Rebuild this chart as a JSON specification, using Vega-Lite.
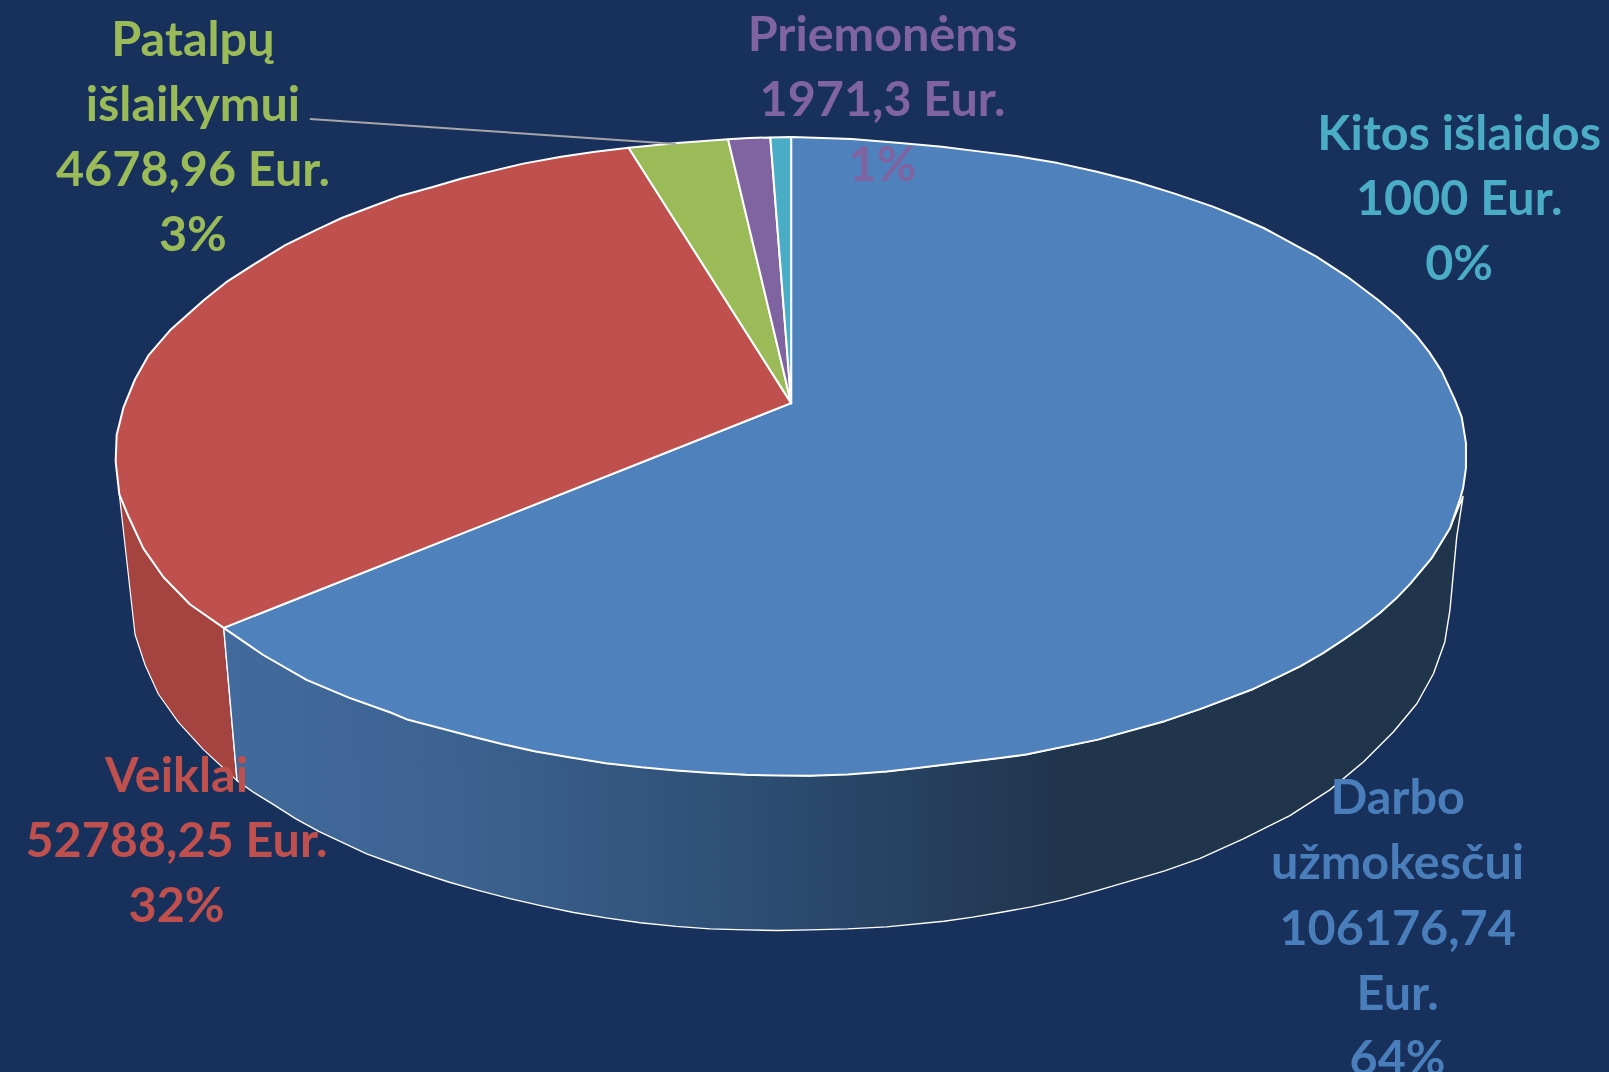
{"$schema":"https://vega.github.io/schema/vega-lite/v6.json","width":1609,"height":1072,"padding":0,"autosize":{"type":"none"},"background":"#18305c","config":{"view":{"stroke":null}},
"datasets":{
"blueTop":[{"i":0,"x":771,"y":393},{"i":1,"x":771,"y":133.6},{"i":2,"x":779.6,"y":133.8},{"i":3,"x":830,"y":135.5},{"i":4,"x":880,"y":139.6},{"i":5,"x":918,"y":143},{"i":6,"x":955.6,"y":147.8},{"i":7,"x":993,"y":152.5},{"i":8,"x":1031,"y":159},{"i":9,"x":1069,"y":167.5},{"i":10,"x":1106.5,"y":177},{"i":11,"x":1144,"y":188.5},{"i":12,"x":1182,"y":201.4},{"i":13,"x":1207,"y":211.5},{"i":14,"x":1232,"y":222.5},{"i":15,"x":1282.5,"y":250},{"i":16,"x":1312.7,"y":269.6},{"i":17,"x":1343,"y":292.4},{"i":18,"x":1362,"y":308.5},{"i":19,"x":1380,"y":327},{"i":20,"x":1393,"y":343.5},{"i":21,"x":1405,"y":362},{"i":22,"x":1418,"y":390},{"i":23,"x":1424.5,"y":406.6},{"i":24,"x":1428.6,"y":432},{"i":25,"x":1428.6,"y":456},{"i":26,"x":1425.8,"y":476},{"i":27,"x":1423,"y":486},{"i":28,"x":1413,"y":515},{"i":29,"x":1395,"y":544.4},{"i":30,"x":1374,"y":569.4},{"i":31,"x":1360.5,"y":583.5},{"i":32,"x":1345,"y":597.4},{"i":33,"x":1327.5,"y":611},{"i":34,"x":1309,"y":623.8},{"i":35,"x":1289,"y":637},{"i":36,"x":1267,"y":649.6},{"i":37,"x":1244.5,"y":660.5},{"i":38,"x":1221.5,"y":671.6},{"i":39,"x":1169.5,"y":691.3},{"i":40,"x":1135,"y":703},{"i":41,"x":1070,"y":721},{"i":42,"x":1000,"y":735.5},{"i":43,"x":974.6,"y":739},{"i":44,"x":920,"y":745.5},{"i":45,"x":892,"y":749},{"i":46,"x":864,"y":752},{"i":47,"x":826,"y":755},{"i":48,"x":789.3,"y":756.3},{"i":49,"x":758,"y":756},{"i":50,"x":727,"y":755.3},{"i":51,"x":693,"y":753.5},{"i":52,"x":658.8,"y":751},{"i":53,"x":625,"y":748},{"i":54,"x":590.5,"y":744},{"i":55,"x":556,"y":738.5},{"i":56,"x":522,"y":732.5},{"i":57,"x":490,"y":725.5},{"i":58,"x":460,"y":718},{"i":59,"x":397.7,"y":701.7},{"i":60,"x":380,"y":694.3},{"i":61,"x":340,"y":680},{"i":62,"x":298.8,"y":662.8},{"i":63,"x":256.6,"y":638.5},{"i":64,"x":218,"y":612}],
"redTop":[{"i":0,"x":771,"y":393},{"i":1,"x":218,"y":612},{"i":2,"x":185,"y":589},{"i":3,"x":159.2,"y":562.5},{"i":4,"x":139.7,"y":534.5},{"i":5,"x":125,"y":503},{"i":6,"x":116.3,"y":482},{"i":7,"x":112.7,"y":450},{"i":8,"x":113.7,"y":424},{"i":9,"x":120.2,"y":397.7},{"i":10,"x":131.6,"y":369.7},{"i":11,"x":144.5,"y":346.7},{"i":12,"x":165.7,"y":322},{"i":13,"x":198.8,"y":292.4},{"i":14,"x":222,"y":274},{"i":15,"x":248.6,"y":257},{"i":16,"x":278,"y":239},{"i":17,"x":308.3,"y":224},{"i":18,"x":333,"y":212.5},{"i":19,"x":358,"y":203},{"i":20,"x":390,"y":191},{"i":21,"x":422.6,"y":182},{"i":22,"x":450,"y":174},{"i":23,"x":477.3,"y":167.3},{"i":24,"x":510,"y":159.5},{"i":25,"x":546.9,"y":152.7},{"i":26,"x":580,"y":148},{"i":27,"x":612.6,"y":144}],
"greenTop":[{"i":0,"x":771,"y":393},{"i":1,"x":612.6,"y":144},{"i":2,"x":660,"y":139.5},{"i":3,"x":709.5,"y":135.8}],
"purpleTop":[{"i":0,"x":771,"y":393},{"i":1,"x":709.5,"y":135.8},{"i":2,"x":730,"y":134.5},{"i":3,"x":750.7,"y":134}],
"cyanTop":[{"i":0,"x":771,"y":393},{"i":1,"x":750.7,"y":134},{"i":2,"x":771,"y":133.6}],
"redSide":[{"i":0,"x":116.3,"y":482},{"i":1,"x":125,"y":503},{"i":2,"x":139.7,"y":534.5},{"i":3,"x":159.2,"y":562.5},{"i":4,"x":185,"y":589},{"i":5,"x":218,"y":612},{"i":6,"x":231,"y":761},{"i":7,"x":198,"y":730.5},{"i":8,"x":173.8,"y":704},{"i":9,"x":154.3,"y":676.5},{"i":10,"x":141.3,"y":648},{"i":11,"x":131.6,"y":618.5}],
"blueSide":[{"i":0,"x":218,"y":612},{"i":1,"x":256.6,"y":638.5},{"i":2,"x":298.8,"y":662.8},{"i":3,"x":340,"y":680},{"i":4,"x":380,"y":694.3},{"i":5,"x":460,"y":718},{"i":6,"x":522,"y":732.5},{"i":7,"x":590.5,"y":744},{"i":8,"x":658.8,"y":751},{"i":9,"x":727,"y":755.3},{"i":10,"x":789.3,"y":756.3},{"i":11,"x":864,"y":752},{"i":12,"x":920,"y":745.5},{"i":13,"x":974.6,"y":739},{"i":14,"x":1000,"y":735.5},{"i":15,"x":1070,"y":721},{"i":16,"x":1135,"y":703},{"i":17,"x":1169.5,"y":691.3},{"i":18,"x":1221.5,"y":671.6},{"i":19,"x":1267,"y":649.6},{"i":20,"x":1309,"y":623.8},{"i":21,"x":1345,"y":597.4},{"i":22,"x":1374,"y":569.4},{"i":23,"x":1395,"y":544.4},{"i":24,"x":1413,"y":515},{"i":25,"x":1425.8,"y":484},{"i":26,"x":1419.6,"y":523.4},{"i":27,"x":1413,"y":594.6},{"i":28,"x":1408,"y":625.8},{"i":29,"x":1396.8,"y":657},{"i":30,"x":1380.7,"y":686},{"i":31,"x":1357.8,"y":713.6},{"i":32,"x":1328.6,"y":742.8},{"i":33,"x":1296,"y":770},{"i":34,"x":1257,"y":795},{"i":35,"x":1211.6,"y":817.8},{"i":36,"x":1169.5,"y":836.7},{"i":37,"x":1135,"y":849},{"i":38,"x":1070,"y":868},{"i":39,"x":1037,"y":877},{"i":40,"x":1005,"y":884},{"i":41,"x":974.6,"y":889.5},{"i":42,"x":948,"y":894},{"i":43,"x":920,"y":898},{"i":44,"x":864,"y":903.5},{"i":45,"x":826,"y":905.5},{"i":46,"x":789,"y":906.5},{"i":47,"x":758,"y":907},{"i":48,"x":727,"y":906.5},{"i":49,"x":692,"y":905.5},{"i":50,"x":658.8,"y":903},{"i":51,"x":624,"y":899.5},{"i":52,"x":590.5,"y":894.8},{"i":53,"x":559,"y":889.5},{"i":54,"x":528,"y":883},{"i":55,"x":497,"y":876},{"i":56,"x":466,"y":868},{"i":57,"x":438,"y":860},{"i":58,"x":410,"y":851},{"i":59,"x":384,"y":842},{"i":60,"x":357.4,"y":832.3},{"i":61,"x":334,"y":821.5},{"i":62,"x":310.7,"y":810.5},{"i":63,"x":288,"y":798},{"i":64,"x":267,"y":784.6},{"i":65,"x":248,"y":773},{"i":66,"x":231,"y":761}],
"leader":[{"i":0,"x":302,"y":116},{"i":1,"x":659,"y":140.3}],
"labels":[{"x":1362,"y":779,"color":"#4a7ebb","label":"Darbo\nužmokesčui\n106176,74\nEur.\n64%"},{"x":172,"y":757,"color":"#c0504d","label":"Veiklai\n52788,25 Eur.\n32%"},{"x":188,"y":39.5,"color":"#9bbb59","label":"Patalpų\nišlaikymui\n4678,96 Eur.\n3%"},{"x":860,"y":35,"color":"#8064a2","label":"Priemonėms\n1971,3 Eur.\n1%"},{"x":1422,"y":131.5,"color":"#4bacc6","label":"Kitos išlaidos\n1000 Eur.\n0%"}]
},
"encoding":{"x":{"field":"x","type":"quantitative","scale":{"domain":[0,1568],"nice":false,"zero":false},"axis":null},"y":{"field":"y","type":"quantitative","scale":{"domain":[0,1045],"reverse":true,"nice":false,"zero":false},"axis":null}},
"layer":[
{"data":{"name":"redSide"},"mark":{"type":"line","interpolate":"linear-closed","stroke":"#ffffff","strokeWidth":1.2,"strokeJoin":"round","fill":"#a4433f","clip":false},"encoding":{"order":{"field":"i"}}},
{"data":{"name":"blueSide"},"mark":{"type":"line","interpolate":"linear-closed","stroke":"#ffffff","strokeWidth":1.4,"strokeJoin":"round","fill":{"gradient":"linear","x1":0,"x2":1,"y1":0,"y2":0,"stops":[{"offset":0,"color":"#426a9c"},{"offset":0.2,"color":"#3b6290"},{"offset":0.45,"color":"#2c4b70"},{"offset":0.68,"color":"#20344c"},{"offset":1,"color":"#20344c"}]}},"encoding":{"order":{"field":"i"}}},
{"data":{"name":"blueTop"},"mark":{"type":"line","interpolate":"linear-closed","stroke":"#ffffff","strokeWidth":2,"strokeJoin":"round","fill":"#4f81bd"},"encoding":{"order":{"field":"i"}}},
{"data":{"name":"redTop"},"mark":{"type":"line","interpolate":"linear-closed","stroke":"#ffffff","strokeWidth":2,"strokeJoin":"round","fill":"#c0504d"},"encoding":{"order":{"field":"i"}}},
{"data":{"name":"greenTop"},"mark":{"type":"line","interpolate":"linear-closed","stroke":"#ffffff","strokeWidth":2,"strokeJoin":"round","fill":"#9bbb59"},"encoding":{"order":{"field":"i"}}},
{"data":{"name":"purpleTop"},"mark":{"type":"line","interpolate":"linear-closed","stroke":"#ffffff","strokeWidth":2,"strokeJoin":"round","fill":"#8064a2"},"encoding":{"order":{"field":"i"}}},
{"data":{"name":"cyanTop"},"mark":{"type":"line","interpolate":"linear-closed","stroke":"#ffffff","strokeWidth":2,"strokeJoin":"round","fill":"#4bacc6"},"encoding":{"order":{"field":"i"}}},
{"data":{"name":"leader"},"mark":{"type":"line","stroke":"#a6a6a6","strokeWidth":2},"encoding":{"order":{"field":"i"}}},
{"data":{"name":"labels"},"mark":{"type":"text","font":"Lato","fontWeight":"bold","fontSize":48.5,"align":"center","baseline":"middle","lineBreak":"\n","lineHeight":65.3},"encoding":{"text":{"field":"label","type":"nominal"},"color":{"field":"color","type":"nominal","scale":null}}}
]}
